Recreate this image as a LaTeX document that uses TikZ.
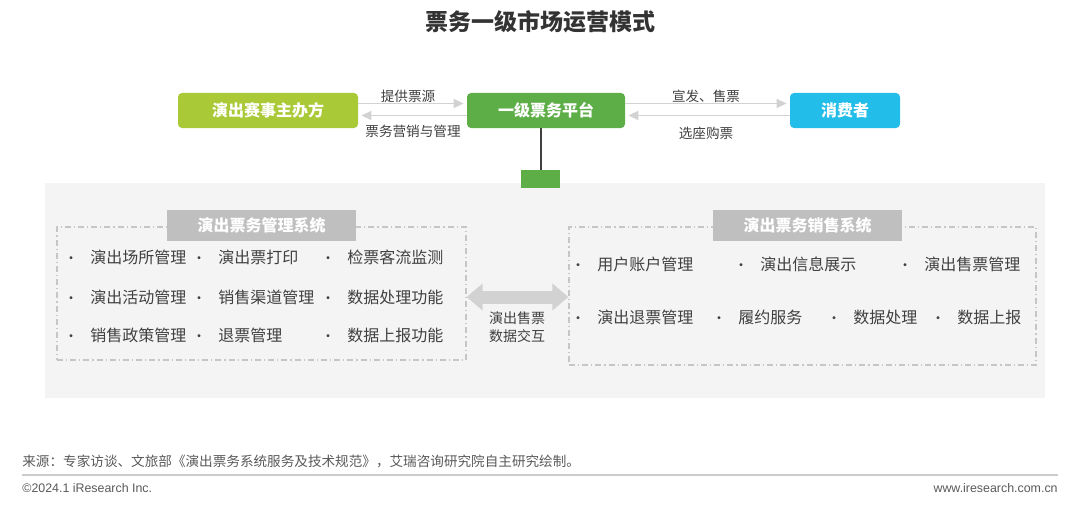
\documentclass[tikz,border=0pt]{standalone}
\usepackage{fontspec}
\setmainfont{Noto Sans CJK SC}
\newfontfamily\latinfont{Liberation Sans}
\usetikzlibrary{arrows.meta,calc,positioning}
\definecolor{orgcol}{HTML}{A9C937}
\definecolor{platcol}{HTML}{5DAE47}
\definecolor{conscol}{HTML}{22BDE9}
\definecolor{panelcol}{HTML}{F4F4F4}
\definecolor{boxgray}{HTML}{BFBFBF}
\definecolor{linecol}{HTML}{D2D2D2}
\definecolor{textcol}{HTML}{404040}

\begin{document}
\begin{tikzpicture}[x=0.5pt,y=-0.5pt,>={Triangle[length=5pt,width=4.5pt]},
  actor/.style={rounded corners=2pt,text=white,font=\fontsize{8}{10}\selectfont\bfseries,minimum height=17.5pt,inner sep=0pt},
  flow/.style={->,draw=linecol,line width=0.8pt},
  lbl/.style={text=textcol,font=\fontsize{6.8}{8}\selectfont,inner sep=0pt},
  systitle/.style={fill=boxgray,text=white,font=\fontsize{8}{10}\selectfont\bfseries,minimum width=94.5pt,minimum height=15.5pt,inner sep=0pt},
  dashbox/.style={draw=gray!45,dash pattern=on 3pt off 1.5pt on 0.6pt off 1.5pt,line width=0.6pt,inner sep=0pt},
  item/.style={text=textcol,font=\fontsize{8}{10}\selectfont,anchor=west,inner sep=0pt},
  dot/.style={text=textcol,font=\fontsize{7}{8}\selectfont,inner sep=0pt,yshift=-1.6pt},
  fat/.style={draw=linecol,line width=6.5pt,{Triangle[length=8pt,width=13pt]}-{Triangle[length=8pt,width=13pt]}}]
\useasboundingbox (0,0) rectangle (1080,508);
\node[text=black!80,font=\fontsize{11.5}{14}\selectfont\bfseries] (title) at (540,22) {票务一级市场运营模式};
% top row
\node[actor,fill=orgcol,minimum width=90pt] (org) at (268,110.5) {演出赛事主办方};
\node[actor,fill=platcol,minimum width=79pt] (plat) at (546,110.5) {一级票务平台};
\node[actor,fill=conscol,minimum width=55pt] (cons) at (845,110.5) {消费者};
\draw[flow] ($(org.east)+(0,-7)$) -- ($(plat.west)+(-3,-7)$);
\draw[flow] ($(plat.west)+(0,5)$) -- ($(org.east)+(3,5)$);
\draw[flow] ($(plat.east)+(0,-7)$) -- ($(cons.west)+(-3,-7)$);
\draw[flow] ($(cons.west)+(0,5)$) -- ($(plat.east)+(3,5)$);
\node[lbl] (give) at (408,96) {提供票源};
\node[lbl] (manage) at (413,131) {票务营销与管理};
\node[lbl] (sell) at (706,96) {宣发、售票};
\node[lbl] (buy) at (706,133) {选座购票};
% panel
\fill[panelcol] (45,183) rectangle (1045,398);
\node[fill=platcol,minimum width=19.5pt,minimum height=9pt,inner sep=0pt] (hub) at (540.5,179) {};
\draw[line width=1pt,draw=black!75] (hub.north) -- (hub.north |- plat.south);
% systems
\node[dashbox,minimum width=204.5pt,minimum height=66.5pt] (mgmtbox) at (261.5,293.5) {};
\node[dashbox,minimum width=233.5pt,minimum height=69pt] (salesbox) at (802.5,296) {};
\node[systitle] (mgmt) at (261.5,225.5) {演出票务管理系统};
\node[systitle] (sales) at (807.5,225.5) {演出票务销售系统};
\foreach \bx/\y/\t [count=\i] in {71/257/演出场所管理,71/297/演出活动管理,71/335/销售政策管理,
    199/257/演出票打印,199/297/销售渠道管理,199/335/退票管理,
    328/257/检票客流监测,328/297/数据处理功能,328/335/数据上报功能}{
  \node[dot] (md\i) at (\bx,\y) {•};
  \node[item] (m\i) at (\bx+19,\y) {\t};
}
\foreach \bx/\y/\t [count=\i] in {578/264/用户账户管理,741/264/演出信息展示,905/264/演出售票管理,
    578/317/演出退票管理,719/317/履约服务,834/317/数据处理,938/317/数据上报}{
  \node[dot] (sd\i) at (\bx,\y) {•};
  \node[item] (s\i) at (\bx+19,\y) {\t};
}
\draw[fat] ($(mgmtbox.east)+(0,3.5)$) -- ($(mgmtbox.east -| salesbox.west)+(0,3.5)$);
\node[lbl,align=center,font=\fontsize{7}{9}\selectfont] (xchg) at (517,327) {演出售票\\数据交互};
% footer
\node[anchor=west,text=black!65,font=\fontsize{6.8}{8}\selectfont,inner sep=0pt] (src) at (22,461) {来源：专家访谈、文旅部《演出票务系统服务及技术规范》，艾瑞咨询研究院自主研究绘制。};
\draw[gray!40,line width=0.8pt] (22,475) -- (1058,475);
\node[anchor=west,text=black!65,font=\latinfont\fontsize{6.2}{8}\selectfont,inner sep=0pt] (copy) at (22,488) {©2024.1 iResearch Inc.};
\node[anchor=east,text=black!65,font=\latinfont\fontsize{6.2}{8}\selectfont,inner sep=0pt] (web) at (1058,488) {www.iresearch.com.cn};
\end{tikzpicture}
\end{document}
